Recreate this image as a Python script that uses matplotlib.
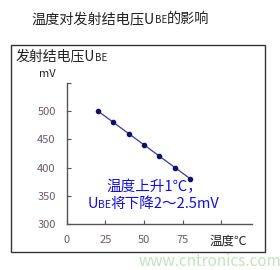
import matplotlib
matplotlib.use('Agg')
import matplotlib.pyplot as plt
from matplotlib.patches import Rectangle

plt.rcParams['font.family'] = ['Noto Sans CJK SC', 'DejaVu Sans']

# data
temps = [20, 30, 40, 50, 60, 70, 80]
ube = [500, 480, 460, 440, 420, 400, 380]
xticks = [0, 25, 50, 75, 100]
xticklabels = ['0', '25', '50', '75', '']
yticks = [300, 350, 400, 450, 500, 550]
yticklabels = ['300', '350', '400', '450', '500', '']

fig = plt.figure(figsize=(2.8, 2.7), dpi=100)
fig.patch.set_facecolor('white')
r = fig.canvas.get_renderer()
inv = fig.transFigure.inverted()


def pieces(x, y, parts, color):
    # draw text pieces one after another (for the small "BE")
    for s, size in parts:
        tt = fig.text(x, y, s, fontsize=size, color=color, va='baseline')
        bb = tt.get_window_extent(r)
        x = inv.transform((bb.x1, bb.y0))[0]


# outer frame
fig.patches.append(Rectangle((0.039, 0.067), 0.907, 0.766, transform=fig.transFigure,
                             fill=False, edgecolor='#333333', linewidth=1.0))

pieces(0.113, 0.915, [('温度对发射结电压U', 10.2), ('BE', 7), ('的影响', 10.2)], '#222222')
pieces(0.055, 0.775, [('发射结电压U', 10), ('BE', 7)], '#222222')

ax = fig.add_axes([0.239, 0.170, 0.661, 0.524])
ax.plot(temps, ube, color='#3a3a8c', linewidth=0.9, marker='o', markersize=3,
        markerfacecolor='#10106a', markeredgecolor='#10106a')
ax.set_xlim(0, 120)
ax.set_ylim(300, 550)
ax.set_xticks(xticks)
ax.set_xticklabels(xticklabels)
ax.set_yticks(yticks)
ax.set_yticklabels(yticklabels)
ax.tick_params(axis='both', labelsize=8, labelcolor='#6a5a6a', color='#555555',
               length=3, width=0.8, direction='in', pad=8)
for s in ['top', 'right']:
    ax.spines[s].set_visible(False)
for s in ['left', 'bottom']:
    ax.spines[s].set_color('#555555')
    ax.spines[s].set_linewidth(1.0)

fig.text(0.14, 0.715, 'mV', fontsize=8, color='#222222', va='baseline')
fig.text(0.75, 0.095, '温度℃', fontsize=9, color='#222222', va='baseline')

# annotation
ax.text(57, 358, '温度上升1℃，', fontsize=10.5, color='#1010e0', ha='center', va='baseline')
pieces(0.312, 0.23, [('U', 10.5), ('BE', 7.5), ('将下降2～2.5mV', 10.5)], '#1010e0')

fig.text(0.75, 0.0, 'www.cntronics.com', fontsize=11, color='#a8d8a0', alpha=0.7,
         ha='center', va='bottom')

fig.savefig('out.png', dpi=100, facecolor='white')
